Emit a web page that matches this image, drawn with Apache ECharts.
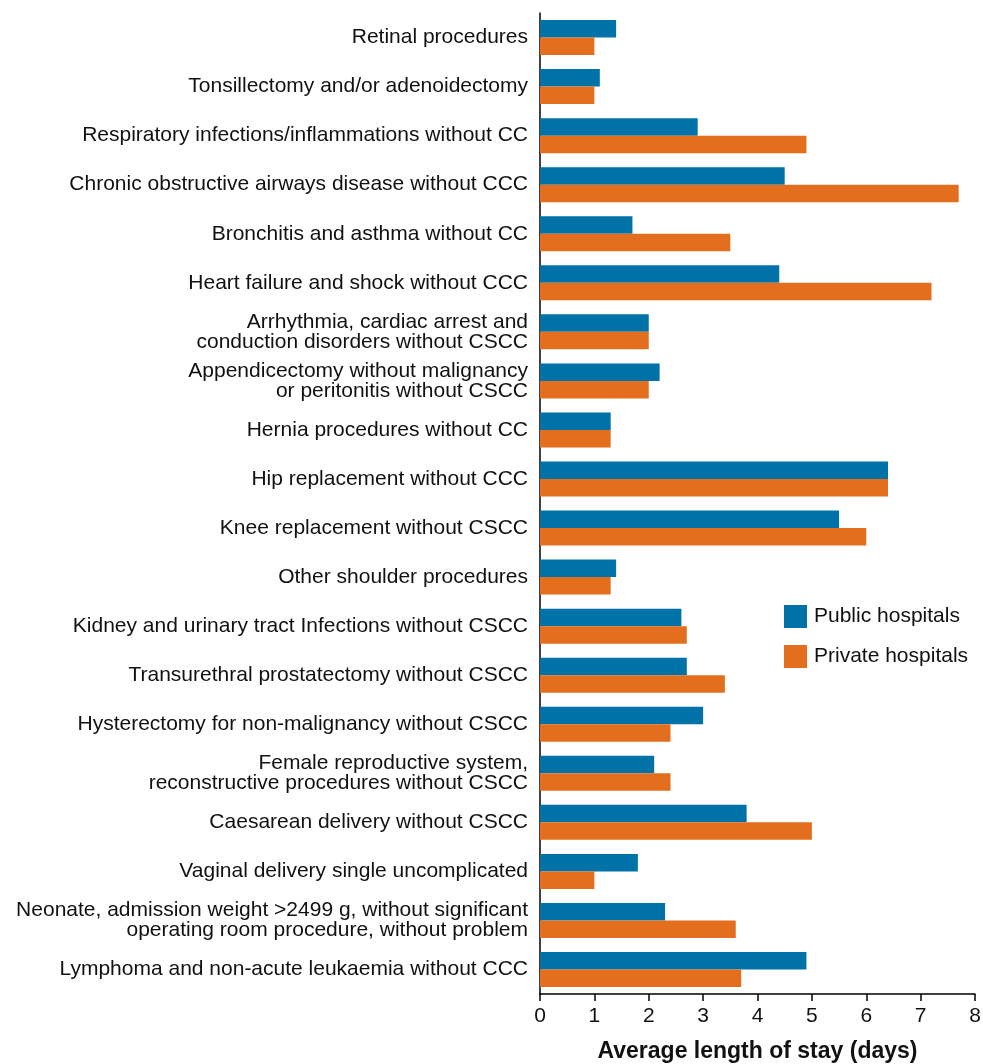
<!DOCTYPE html>
<html>
<head>
<meta charset="utf-8">
<script src="https://cdn.jsdelivr.net/npm/echarts@6/dist/echarts.min.js"></script>
<style>
html,body{margin:0;padding:0;background:#fff;}
#chart{width:983px;height:1064px;}
</style>
</head>
<body>
<div id="chart"></div>
<script>
const categories = [
  'Retinal procedures',
  'Tonsillectomy and/or adenoidectomy',
  'Respiratory infections/inflammations without CC',
  'Chronic obstructive airways disease without CCC',
  'Bronchitis and asthma without CC',
  'Heart failure and shock without CCC',
  'Arrhythmia, cardiac arrest and\nconduction disorders without CSCC',
  'Appendicectomy without malignancy\nor peritonitis without CSCC',
  'Hernia procedures without CC',
  'Hip replacement without CCC',
  'Knee replacement without CSCC',
  'Other shoulder procedures',
  'Kidney and urinary tract Infections without CSCC',
  'Transurethral prostatectomy without CSCC',
  'Hysterectomy for non-malignancy without CSCC',
  'Female reproductive system,\nreconstructive procedures without CSCC',
  'Caesarean delivery without CSCC',
  'Vaginal delivery single uncomplicated',
  'Neonate, admission weight >2499 g, without significant\noperating room procedure, without problem',
  'Lymphoma and non-acute leukaemia without CCC'
];
const publicHospitals = [1.4, 1.1, 2.9, 4.5, 1.7, 4.4, 2.0, 2.2, 1.3, 6.4, 5.5, 1.4, 2.6, 2.7, 3.0, 2.1, 3.8, 1.8, 2.3, 4.9];
const privateHospitals = [1.0, 1.0, 4.9, 7.7, 3.5, 7.2, 2.0, 2.0, 1.3, 6.4, 6.0, 1.3, 2.7, 3.4, 2.4, 2.4, 5.0, 1.0, 3.6, 3.7];
const xTicks = [0, 1, 2, 3, 4, 5, 6, 7, 8];
const seriesNames = ['Public hospitals', 'Private hospitals'];
const axisTitle = 'Average length of stay (days)';

const chart = echarts.init(document.getElementById('chart'), null, {renderer: 'canvas'});
const font = 'Liberation Sans, Arial, sans-serif';
chart.setOption({
  animation: false,
  textStyle: {fontFamily: font},
  legend: {
    orient: 'vertical',
    left: 784,
    top: 605,
    padding: 0,
    itemWidth: 23,
    itemHeight: 23,
    itemGap: 17,
    icon: 'rect',
    data: seriesNames,
    textStyle: {fontSize: 21, color: '#111', fontFamily: font, padding: [0, 0, 0, 2]}
  },
  grid: {left: 540, right: 8, top: 13, height: 981, containLabel: false, outerBoundsMode: 'none'},
  xAxis: {
    type: 'value',
    min: xTicks[0],
    max: xTicks[xTicks.length - 1],
    interval: 1,
    name: axisTitle,
    nameLocation: 'middle',
    nameGap: 46,
    nameTextStyle: {fontSize: 23, fontWeight: 'bold', color: '#111', fontFamily: font},
    axisLine: {show: true, lineStyle: {color: '#000', width: 1.5}},
    axisTick: {show: true, length: 7, lineStyle: {color: '#000', width: 1.5}},
    axisLabel: {fontSize: 21, color: '#111', margin: 12, fontFamily: font},
    splitLine: {show: false}
  },
  yAxis: {
    type: 'category',
    inverse: true,
    data: categories,
    axisLine: {show: true, lineStyle: {color: '#000', width: 1.5}},
    axisTick: {show: false},
    axisLabel: {fontSize: 21, lineHeight: 20, color: '#111', margin: 12, align: 'right', fontFamily: font}
  },
  series: [
    {
      name: seriesNames[0],
      type: 'bar',
      data: publicHospitals,
      barWidth: 17.5,
      barGap: '0%',
      itemStyle: {color: '#0072A7'}
    },
    {
      name: seriesNames[1],
      type: 'bar',
      data: privateHospitals,
      barWidth: 17.5,
      barGap: '0%',
      itemStyle: {color: '#E36F1E'}
    }
  ]
});
</script>
</body>
</html>
